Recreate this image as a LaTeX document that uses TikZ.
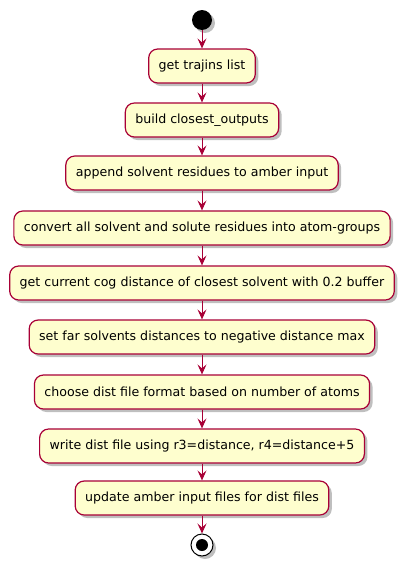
\documentclass[tikz,border=0pt]{standalone}
\usepackage{fontspec}
\setmainfont{DejaVu Sans}
\usepackage{xcolor}
\usetikzlibrary{arrows.meta,shadows}
\definecolor{umlfill}{HTML}{FEFECE}
\definecolor{umlline}{HTML}{A80036}
\tikzset{every scope/.style={>={Stealth[length=10pt,width=9pt,inset=4pt]}}}
\tikzstyle{activity} =
  [ rectangle
  , rounded corners=9pt
  , draw=umlline
  , line width=1.2pt
  , fill=umlfill
  , minimum height=34pt
  , inner xsep=10pt
  , font=\fontsize{12.6}{15}\selectfont
  , drop shadow={shadow xshift=3pt,shadow yshift=-3pt,opacity=0.25,fill=black}
  ]
\tikzstyle{flow} =
  [ ->
  , draw=umlline
  , fill=umlline
  , line width=0.9pt
  ]
\def\Act#1{#1\hspace{15pt}}

\begin{document}
\begin{tikzpicture}[x=1pt,y=-1pt]
    \useasboundingbox (0,0) rectangle (404,565);

    \node[circle,fill=black,minimum size=20pt,inner sep=0pt,
          drop shadow={shadow xshift=3pt,shadow yshift=-3pt,opacity=0.25,fill=black}] (start) at (202, 20) {};

    \node[activity] (trajins)    at (202, 66)  {\Act{get trajins list}};
    \node[activity] (closest)    at (202, 120) {\Act{build closest\_outputs}};
    \node[activity] (append)     at (202, 173) {\Act{append solvent residues to amber input}};
    \node[activity] (convert)    at (202, 228) {\Act{convert all solvent and solute residues into atom-groups}};
    \node[activity] (cog)        at (202, 283) {\Act{get current cog distance of closest solvent with 0.2 buffer}};
    \node[activity] (far)        at (202, 337) {\Act{set far solvents distances to negative distance max}};
    \node[activity] (format)     at (202, 392) {\Act{choose dist file format based on number of atoms}};
    \node[activity] (writedist)  at (202, 446) {\Act{write dist file using r3=distance, r4=distance+5}};
    \node[activity] (update)     at (202, 498) {\Act{update amber input files for dist files}};

    \node[circle,draw=black,line width=1pt,fill=white,minimum size=22pt,inner sep=0pt,
          drop shadow={shadow xshift=3pt,shadow yshift=-3pt,opacity=0.25,fill=black}] (stop) at (202, 545) {};
    \node[circle,fill=black,minimum size=12pt,inner sep=0pt] (stopdot) at (stop) {};

    \draw[flow] (start)     -- (trajins);
    \draw[flow] (trajins)   -- (closest);
    \draw[flow] (closest)   -- (append);
    \draw[flow] (append)    -- (convert);
    \draw[flow] (convert)   -- (cog);
    \draw[flow] (cog)       -- (far);
    \draw[flow] (far)       -- (format);
    \draw[flow] (format)    -- (writedist);
    \draw[flow] (writedist) -- (update);
    \draw[flow] (update)    -- (stop);
  \end{tikzpicture}
\end{document}
